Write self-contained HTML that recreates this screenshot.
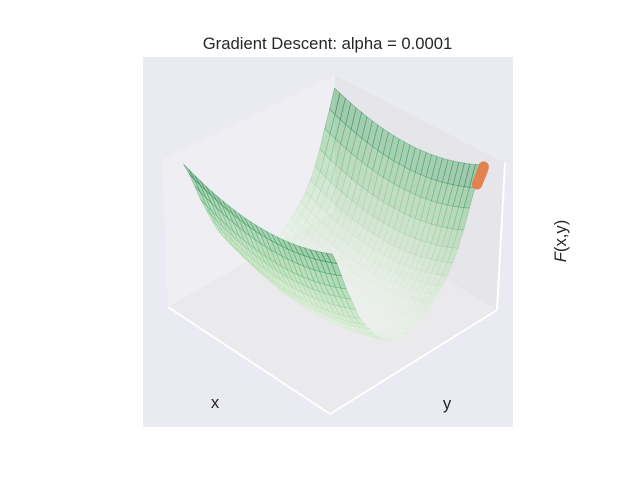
<!DOCTYPE html>
<html>
<head>
<meta charset="utf-8">
<title>Gradient Descent</title>
<style>
html,body{margin:0;padding:0;background:#fff;}
svg{display:block;}
text{font-family:"Liberation Sans",Arial,sans-serif;fill:#262626;}
</style>
</head>
<body>
<svg id="chart" xmlns="http://www.w3.org/2000/svg" width="640" height="480" viewBox="0 0 640 480">
  <rect x="143" y="57" width="370" height="370" fill="#eaeaf2"/>
  <polygon points="168,307 162,160 335,75 335,212" fill="#efeef3"/>
  <polygon points="335,212 335,75 505,163 497,310" fill="#e6e6ea"/>
  <polygon points="168,307 330,414 497,310 335,212" fill="#eaeaec"/>
  <g id="surface"></g>
  <line x1="168" y1="307" x2="330" y2="414" stroke="#fff" stroke-width="1.9"/>
  <line x1="330" y1="414" x2="497" y2="310" stroke="#fff" stroke-width="1.9"/>
  <line x1="497" y1="310" x2="505" y2="163" stroke="#fff" stroke-width="1.9"/>
  <g id="descent"></g>
  <text x="327.5" y="49" font-size="16.67" text-anchor="middle">Gradient Descent: alpha = 0.0001</text>
  <text x="215" y="408" font-size="16.67" text-anchor="middle">x</text>
  <text x="447" y="409" font-size="16.67" text-anchor="middle">y</text>
  <text transform="translate(566,241) rotate(-90)" font-size="16.67" text-anchor="middle"><tspan font-style="italic">F</tspan>(x,y)</text>
</svg>
<script>
var xGrid = [-1,-0.926,-0.852,-0.778,-0.704,-0.63,-0.556,-0.481,-0.407,-0.333,-0.259,-0.185,-0.111,-0.037,0.037,0.111,0.185,0.259,0.333,0.407,0.481,0.556,0.63,0.704,0.778,0.852,0.926,1];
var yGrid = [-1,-0.933,-0.867,-0.8,-0.733,-0.667,-0.6,-0.533,-0.467,-0.4,-0.333,-0.267,-0.2,-0.133,-0.067,0,0.067,0.133,0.2,0.267,0.333,0.4,0.467,0.533,0.6,0.667,0.733,0.8,0.867,0.933,1];
var heightByX = [0.12,0.103,0.087,0.073,0.059,0.048,0.037,0.028,0.02,0.013,0.008,0.004,0.001,0,0,0.001,0.004,0.008,0.013,0.02,0.028,0.037,0.048,0.059,0.073,0.087,0.103,0.12];
var heightByY = [0.875,0.79,0.685,0.575,0.485,0.395,0.31,0.25,0.2,0.145,0.105,0.07,0.04,0.022,0.01,0.004,0.004,0.012,0.028,0.05,0.078,0.112,0.15,0.19,0.24,0.305,0.385,0.49,0.62,0.74,0.875];
var heightBase = 0;
var descentX = [1.0,1.0,1.0,1.0];
var descentY = [1.04,1.02,0.99,0.96];
var descentZ = [0.97,0.94,0.91,0.875];

var SVGNS = 'http://www.w3.org/2000/svg';
var cornerL = [168,307], cornerF = [330,414], cornerR = [497,310], cornerB = [335,212];
var topL = [159,162], topF = [332,268], topR = [505,163], topB = [335,75];
var inset = 0.07;

function scaleX(v){ return inset + (1 - 2*inset)*(v + 1)/2; }
function scaleY(v){ return inset + (1 - 2*inset)*(v + 1)/2; }
function bilinear(p00,p10,p11,p01,u,v,k){
  return (1-u)*(1-v)*p00[k] + u*(1-v)*p10[k] + u*v*p11[k] + (1-u)*v*p01[k];
}
function project(x,y,z){
  var u = scaleX(x), v = scaleY(y), out = [];
  for (var k = 0; k < 2; k++) {
    var lo = bilinear(cornerL,cornerF,cornerR,cornerB,u,v,k);
    var hi = bilinear(topL,topF,topR,topB,u,v,k);
    out.push(lo + (hi - lo)*z);
  }
  return out;
}
var stops = [[247,252,245],[229,245,224],[199,233,192],[161,217,155],[116,196,118],[65,171,93],[35,139,69],[0,109,44],[0,68,27]];
function greens(t){
  t = Math.max(0, Math.min(1, t));
  var p = t*(stops.length - 1), i = Math.min(stops.length - 2, Math.floor(p)), f = p - i;
  var c = [0,1,2].map(function(k){ return Math.round(stops[i][k] + (stops[i+1][k] - stops[i][k])*f); });
  return 'rgb(' + c.join(',') + ')';
}
function heightAt(i,j){ return heightBase + heightByX[i] + heightByY[j]; }

var cells = [];
for (var i = 0; i < xGrid.length - 1; i++) {
  for (var j = 0; j < yGrid.length - 1; j++) {
    cells.push([i,j]);
  }
}
cells.sort(function(a,b){ return (a[0] - a[1]) - (b[0] - b[1]); });

var surface = document.getElementById('surface');
cells.forEach(function(c){
  var i = c[0], j = c[1];
  var corners = [[i,j],[i+1,j],[i+1,j+1],[i,j+1]];
  var pts = corners.map(function(q){
    var p = project(xGrid[q[0]], yGrid[q[1]], heightAt(q[0],q[1]));
    return p[0].toFixed(1) + ',' + p[1].toFixed(1);
  });
  var mean = (heightAt(i,j) + heightAt(i+1,j) + heightAt(i+1,j+1) + heightAt(i,j+1))/4;
  var poly = document.createElementNS(SVGNS,'polygon');
  
  
  poly.setAttribute('points', pts.join(' '));
  poly.setAttribute('fill', greens(0.74*Math.pow(mean, 0.9)));
  poly.setAttribute('fill-opacity', '0.4');
  poly.setAttribute('stroke', greens(0.8*Math.pow(mean, 0.9) + 0.1));
  poly.setAttribute('stroke-opacity', (0.06 + 0.38*mean).toFixed(3));
  poly.setAttribute('stroke-width', '0.7');
  surface.appendChild(poly);
});

var descent = document.getElementById('descent');
var pathPts = descentX.map(function(x,n){
  var p = project(x, descentY[n], descentZ[n]);
  return p[0].toFixed(1) + ',' + p[1].toFixed(1);
});
var pathLine = document.createElementNS(SVGNS,'polyline');


pathLine.setAttribute('points', pathPts.join(' '));
pathLine.setAttribute('fill', 'none');
pathLine.setAttribute('stroke', '#e1824f');
pathLine.setAttribute('stroke-width', '10.5');
pathLine.setAttribute('stroke-linecap', 'round');
pathLine.setAttribute('stroke-linejoin', 'round');
descent.appendChild(pathLine);
</script>
</body>
</html>
